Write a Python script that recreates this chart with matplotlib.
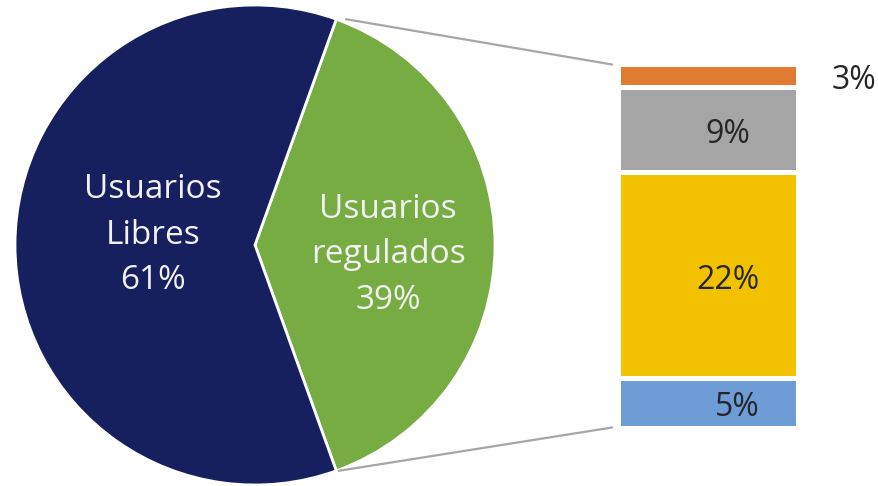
import matplotlib.pyplot as plt
from matplotlib.patches import ConnectionPatch
import numpy as np

plt.rcParams['font.family'] = ['Open Sans', 'DejaVu Sans']

# pie data
pie_labels = ['Usuarios\nregulados', 'Usuarios\nLibres']
pie_values = [39, 61]
pie_colors = ['#77ac43', '#17205e']

# bar breakdown of the regulated share (bottom to top)
bar_heights = [5.3, 22.1, 9.2, 2.4]
bar_labels = ['5%', '22%', '9%', '3%']
bar_colors = ['#6d9cd7', '#f2c200', '#a5a5a5', '#e07b32']

W, H = 879, 486
fig = plt.figure(figsize=(W / 100, H / 100), dpi=100)

# pie axes: centre at (255, 245) px, radius 240 px
ax_pie = fig.add_axes([15 / W, 1 / H, 480 / W, 480 / H])
start = -pie_values[0] / 100 * 180
wedges, _ = ax_pie.pie(pie_values, colors=pie_colors, startangle=start,
                       radius=1, wedgeprops=dict(edgecolor='white', linewidth=2))
ax_pie.set_xlim(-1, 1)
ax_pie.set_ylim(-1, 1)
ax_pie.set_aspect('equal')
ax_pie.axis('off')

label_pos = [(0.555, -0.04), (-0.425, 0.04)]
for lab, val, (x, y) in zip(pie_labels, pie_values, label_pos):
    ax_pie.text(x, y, f'{lab}\n{val}%',
                ha='center', va='center', color='#f2f2f2', fontsize=24,
                linespacing=1.5)

# bar axes
ax_bar = fig.add_axes([617.5 / W, (H - 427.5) / H, 181 / W, 363 / H])
bottoms = np.concatenate([[0], np.cumsum(bar_heights)[:-1]])
ax_bar.bar(0, bar_heights, width=1, bottom=bottoms, color=bar_colors,
           edgecolor='white', linewidth=3.6)
total = sum(bar_heights)
ax_bar.set_xlim(-0.5, 0.5)
ax_bar.set_ylim(0, total)
ax_bar.axis('off')

label_x = [0.16, 0.11, 0.11, 0.68]
for x, b, h, lab in zip(label_x, bottoms, bar_heights, bar_labels):
    inside = x < 0.5
    ax_bar.text(x, b + h / 2 - 0.55, lab, ha='center' if inside else 'left',
                va='center', fontsize=23, color='#262626', clip_on=False)

# connector lines
for ang, yb, dx in [(wedges[0].theta2, total, 0.04), (wedges[0].theta1, 0, 0.01)]:
    a = np.deg2rad(ang)
    con = ConnectionPatch(xyA=(np.cos(a) + dx, np.sin(a)), coordsA=ax_pie.transData,
                          xyB=(-0.53, yb), coordsB=ax_bar.transData,
                          color='#a6a6a6', linewidth=1.6)
    fig.add_artist(con)

fig.savefig('out.png', dpi=100, facecolor='white')
